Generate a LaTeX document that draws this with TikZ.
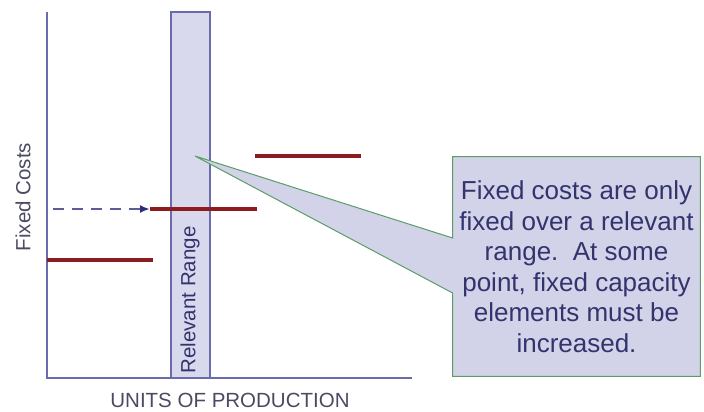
\documentclass[tikz,border=0pt]{standalone}
\usepackage{fontspec}
\setmainfont{Liberation Sans}
\usepackage{xcolor}
\usetikzlibrary{arrows.meta,backgrounds,calc,positioning}
\definecolor{axisblue}{HTML}{6A6AAE}
\definecolor{rangefill}{HTML}{D9D9EE}
\definecolor{costred}{HTML}{8E1B1E}
\definecolor{markblue}{HTML}{5C5C98}
\definecolor{marknavy}{HTML}{2B2B80}
\definecolor{notegreen}{HTML}{5A9E66}
\definecolor{notefill}{HTML}{D2D2E8}
\definecolor{notenavy}{HTML}{33336E}
\definecolor{labelgray}{HTML}{4A4A62}

\begin{document}
\begin{tikzpicture}[x=1pt,y=-1pt,every path/.style={thick}]
  \tikzset{axis/.style={draw=axisblue,line width=1.4pt}};
  \tikzset{level/.style={draw=costred,line width=3.2pt}};
  \tikzset{axislabel/.style={text=labelgray,font=\fontsize{20.5}{24}\selectfont}};
  \useasboundingbox (0,0) rectangle (704,412);
  \coordinate (origin) at (47,378);
  \coordinate (ytop) at (47,12);
  \coordinate (xend) at (412,378);
  \node[rotate=90,axislabel] (ylabel) at (23,197) {Fixed Costs};
  \node[axislabel,inner sep=1pt] (xlabel) at (230,400) {UNITS OF PRODUCTION};
  \node[rotate=90,text=notenavy,font=\fontsize{20.5}{24}\selectfont] (rangelabel) at (190,300) {Relevant Range};
  \node[text=notenavy,font=\fontsize{26}{30.5}\selectfont,align=center,minimum width=247pt,minimum height=219pt,inner sep=0pt] (note) at (576.5,266.5)
    {Fixed costs are only\\fixed over a relevant\\range.~~At some\\point, fixed capacity\\elements must be\\increased.};
  \coordinate (tip) at (195,156);
  \scoped[on background layer]{
    \node[draw=axisblue,line width=1.2pt,fill=rangefill,minimum width=39pt,minimum height=366pt,inner sep=0pt] (range) at (190.5,195) {};
    \draw[draw=notegreen,line width=1pt,fill=notefill] (note.north west) -- (note.north east) -- (note.south east)
      -- (note.south west) -- (note.west |- 0,293) -- (tip) -- (note.west |- 0,238) -- cycle;
  };
  \draw[axis] (ytop) -- (origin) -- (xend);
  % cost steps
  \coordinate (low0) at (47,260);
  \coordinate (low1) at (153,260);
  \coordinate (mid0) at (150,209);
  \coordinate (mid1) at (257,209);
  \coordinate (high0) at (255,156);
  \coordinate (high1) at (361,156);
  \draw[level] (low0) -- (low1);
  \draw[level] (mid0) -- (mid1);
  \draw[level] (high0) -- (high1);
  \coordinate (ymark) at (53,209);
  \draw[draw=markblue,line width=2pt,dash pattern=on 11pt off 8pt,-{Latex[length=10pt,width=8pt,color=marknavy]}] (ymark) -- (mid0);
\end{tikzpicture}
\end{document}
